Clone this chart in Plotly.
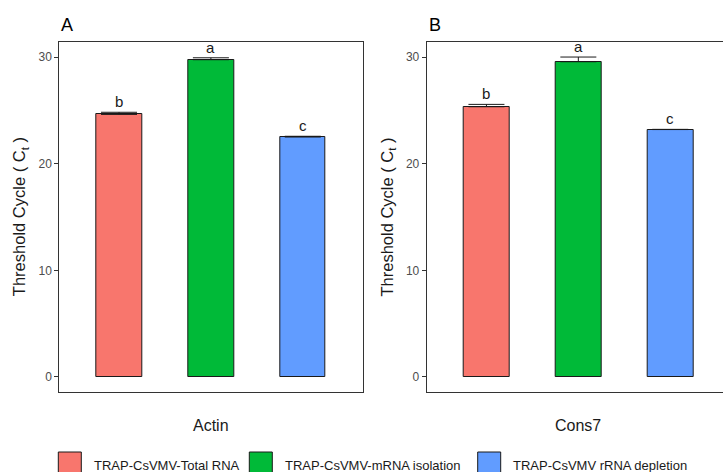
import plotly.graph_objects as go

# ---- data ----
methods = ["TRAP-CsVMV-Total RNA", "TRAP-CsVMV-mRNA isolation", "TRAP-CsVMV rRNA depletion"]
colors = ["#F8766D", "#00BA38", "#619CFF"]
genes = ["Actin", "Cons7"]
panel_labels = ["A", "B"]
actin_ct = [24.62, 29.75, 22.50]
actin_se = [0.20, 0.18, 0.07]
cons7_ct = [25.34, 29.56, 23.20]
cons7_se = [0.22, 0.44, 0.02]
actin_letters = ["b", "a", "c"]
cons7_letters = ["b", "a", "c"]
y_ticks = [0, 10, 20, 30]

W, H = 723, 472
def fx(px):
    return px / W
def fy(py):
    return 1 - py / H

fig = go.Figure()

panels = [
    dict(vals=actin_ct, se=actin_se, letters=actin_letters, xa="x", ya="y",
         dom=[fx(59.3), fx(362.5)], rng=[-0.65, 2.65]),
    dict(vals=cons7_ct, se=cons7_se, letters=cons7_letters, xa="x2", ya="y2",
         dom=[fx(426.7), 1.0], rng=[-0.65, 2.574]),
]

ydom = [fy(391.7), fy(42)]
yrange = [-1.38, 31.41]

annotations = []
for i, p in enumerate(panels):
    fig.add_trace(go.Bar(
        x=methods, y=p["vals"], width=0.5,
        marker=dict(color=colors, line=dict(color="#1a1a1a", width=1)),
        error_y=dict(type="data", array=p["se"], arrayminus=[0] * len(p["se"]),
                     symmetric=False, visible=True,
                     color="#1a1a1a", thickness=1, width=18),
        xaxis=p["xa"], yaxis=p["ya"], showlegend=False,
    ))
    for m, v, s, lt in zip(methods, p["vals"], p["se"], p["letters"]):
        annotations.append(dict(x=m, y=v + s, xref=p["xa"], yref=p["ya"],
                                text=lt, showarrow=False, yanchor="bottom", yshift=0,
                                font=dict(size=15, color="#1a1a1a")))
    # x title
    annotations.append(dict(x=(p["dom"][0] + fx(362.5 + i * 367.4)) / 2,
                            y=fy(425), xref="paper", yref="paper",
                            text=genes[i], showarrow=False, xanchor="center", yanchor="middle",
                            font=dict(size=16, color="#1a1a1a")))
    # y title
    annotations.append(dict(x=p["dom"][0], y=(ydom[0] + ydom[1]) / 2, xref="paper", yref="paper",
                            xshift=-39, text="Threshold Cycle ( C<sub>t</sub> )", textangle=-90,
                            showarrow=False, xanchor="center", yanchor="middle",
                            font=dict(size=16.5, color="#1a1a1a")))
    # panel label
    annotations.append(dict(x=p["dom"][0], y=fy(25), xref="paper", yref="paper",
                            text=panel_labels[i], showarrow=False,
                            xanchor="left", yanchor="middle",
                            font=dict(size=18, color="#000000")))

axis_common_x = dict(type="category", showticklabels=False, ticks="", showgrid=False,
                     zeroline=False, showline=True, linecolor="#333333", linewidth=1,
                     mirror=True, fixedrange=True)
axis_common_y = dict(range=yrange, tickvals=y_ticks, ticks="outside", ticklen=4,
                     tickcolor="#333333", showgrid=False, zeroline=False, showline=True,
                     linecolor="#333333", linewidth=1,
                     tickfont=dict(size=12, color="#4D4D4D"))

fig.update_layout(
    width=W, height=H,
    margin=dict(l=0, r=0, t=0, b=0),
    paper_bgcolor="white", plot_bgcolor="white",
    font=dict(family="Liberation Sans, Arial, sans-serif"),
    xaxis=dict(domain=panels[0]["dom"], range=panels[0]["rng"], anchor="y", **axis_common_x),
    yaxis=dict(domain=ydom, anchor="x", mirror=True, **axis_common_y),
    xaxis2=dict(domain=panels[1]["dom"], range=panels[1]["rng"], anchor="y2", **axis_common_x),
    yaxis2=dict(domain=ydom, anchor="x2", mirror=False, **axis_common_y),
    showlegend=False,
    bargap=0,
)

# manual legend (keys larger than plotly's built-in legend symbols)
key_left = [58.3, 249.3, 477.7]
shapes = []
for m, c, kl in zip(methods, colors, key_left):
    shapes.append(dict(type="rect", xref="paper", yref="paper",
                       x0=fx(kl), x1=fx(kl + 23), y0=fy(474), y1=fy(452),
                       fillcolor=c, line=dict(color="#1a1a1a", width=1)))
    annotations.append(dict(x=fx(kl + 33.5), y=fy(465), xref="paper", yref="paper",
                            text=m, showarrow=False, xanchor="left", yanchor="middle",
                            font=dict(size=13, color="#1a1a1a")))

fig.update_layout(annotations=annotations, shapes=shapes)
fig.write_html("out.html", config={"displayModeBar": False},
               post_script="document.body.style.margin='0';document.body.style.overflow='hidden';")
